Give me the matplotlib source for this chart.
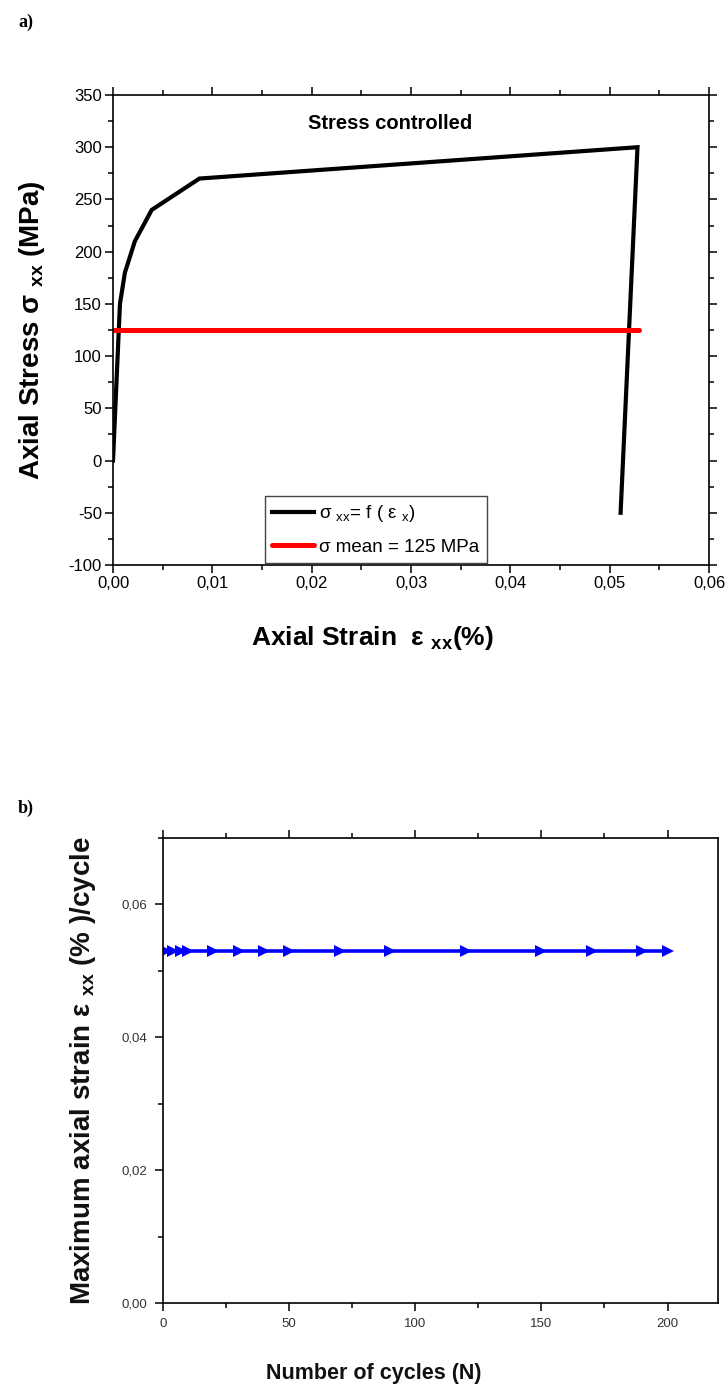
import matplotlib
matplotlib.use("Agg")
import matplotlib.pyplot as plt
from matplotlib.ticker import MultipleLocator, FuncFormatter

plt.rcParams['font.family'] = ['Liberation Sans', 'DejaVu Sans']
plt.rcParams['mathtext.fontset'] = 'custom'
plt.rcParams['mathtext.rm'] = 'Liberation Sans'
plt.rcParams['mathtext.bf'] = 'Liberation Sans:bold'
plt.rcParams['mathtext.it'] = 'Liberation Sans:italic'
plt.rcParams['axes.unicode_minus'] = False

# Panel a: stress-strain curve
strain_a = [0.0, 0.0007, 0.0012, 0.0022, 0.0039, 0.0087, 0.0528, 0.0511]
stress_a = [0, 150, 180, 210, 240, 270, 300, -50]
mean_strain = [0.0, 0.053]
mean_stress = [125, 125]

# Panel b: max strain per cycle
cycles = [1, 4, 7, 10, 20, 30, 40, 50, 70, 90, 120, 150, 170, 190, 200]
max_strain = [0.053] * len(cycles)

W, H = 728, 1392
fig = plt.figure(figsize=(W / 100, H / 100), dpi=100)

comma = FuncFormatter(lambda v, p: f"{v:.2f}".replace(".", ","))

# ---------- a) ----------
ax1 = fig.add_axes([113 / W, 1 - 565 / H, 596 / W, 470 / H])
ax1.plot(strain_a, stress_a, color="black", lw=3.0, solid_joinstyle="miter",
         label="σ $_{\\mathregular{xx}}$= f ( ε $_{\\mathregular{x}}$)")
ax1.plot(mean_strain, mean_stress, color="#ff0000", lw=3.6, solid_capstyle="round",
         label="σ mean = 125 MPa")
ax1.set_xlim(0, 0.06)
ax1.set_ylim(-100, 350)
ax1.xaxis.set_major_locator(MultipleLocator(0.01))
ax1.xaxis.set_minor_locator(MultipleLocator(0.005))
ax1.yaxis.set_major_locator(MultipleLocator(50))
ax1.yaxis.set_minor_locator(MultipleLocator(25))
ax1.xaxis.set_major_formatter(comma)
ax1.tick_params(which="both", direction="out", top=True, right=True, width=1.1,
                labelsize=12, pad=2)
ax1.tick_params(which="major", length=6)
ax1.tick_params(which="minor", length=3.5)
for s in ax1.spines.values():
    s.set_linewidth(1.2)
ax1.set_ylabel("Axial Stress σ $_{\\mathbf{xx}}$ (MPa)", fontsize=20, fontweight="bold")
ax1.yaxis.set_label_coords(-0.11, 0.5)
ax1.set_xlabel("Axial Strain  ε $_{\\mathbf{xx}}$(%)", fontsize=19, fontweight="bold")
ax1.xaxis.set_label_coords(0.435, -0.125)
ax1.text(0.465, 0.94, "Stress controlled", transform=ax1.transAxes, ha="center",
         va="center", fontsize=14.5, fontweight="bold")
leg = ax1.legend(loc="lower left", bbox_to_anchor=(0.255, 0.004), borderaxespad=0,
                 fancybox=False, edgecolor="#444444", framealpha=1, fontsize=13.5,
                 handlelength=2.2, handletextpad=0.3, borderpad=0.4, labelspacing=0.75)
leg.get_frame().set_linewidth(1.0)

fig.text(18 / W, 1 - 22 / H, "a)", fontsize=13, fontweight="bold",
         family=["Liberation Serif"], va="center")

# ---------- b) ----------
ax2 = fig.add_axes([163 / W, 1 - 1303 / H, 555 / W, 465 / H])
ax2.plot(cycles, max_strain, color="#0000ff", lw=2.6, marker=">", markersize=8.5,
         markeredgewidth=0)
ax2.set_xlim(0, 220)
ax2.set_ylim(0, 0.07)
ax2.xaxis.set_major_locator(MultipleLocator(50))
ax2.xaxis.set_minor_locator(MultipleLocator(25))
ax2.yaxis.set_major_locator(MultipleLocator(0.02))
ax2.yaxis.set_minor_locator(MultipleLocator(0.01))
ax2.yaxis.set_major_formatter(comma)
ax2.tick_params(which="both", direction="out", top=True, right=False, width=1.1,
                labelsize=9.5, pad=5, labelcolor="#333333")
ax2.tick_params(which="major", length=6)
ax2.tick_params(which="minor", length=3.5)
for s in ax2.spines.values():
    s.set_linewidth(1.2)
ax2.set_ylabel("Maximum axial strain ε $_{\\mathbf{xx}}$ (% )/cycle", fontsize=20,
               fontweight="bold", color="#111111")
ax2.yaxis.set_label_coords(-0.118, 0.5)
ax2.set_xlabel("Number of cycles (N)", fontsize=15.5, fontweight="bold", color="#111111")
ax2.xaxis.set_label_coords(0.38, -0.128)

fig.text(18 / W, 1 - 808 / H, "b)", fontsize=13, fontweight="bold",
         family=["Liberation Serif"], va="center")

fig.savefig("out.png", dpi=100, facecolor="white")
